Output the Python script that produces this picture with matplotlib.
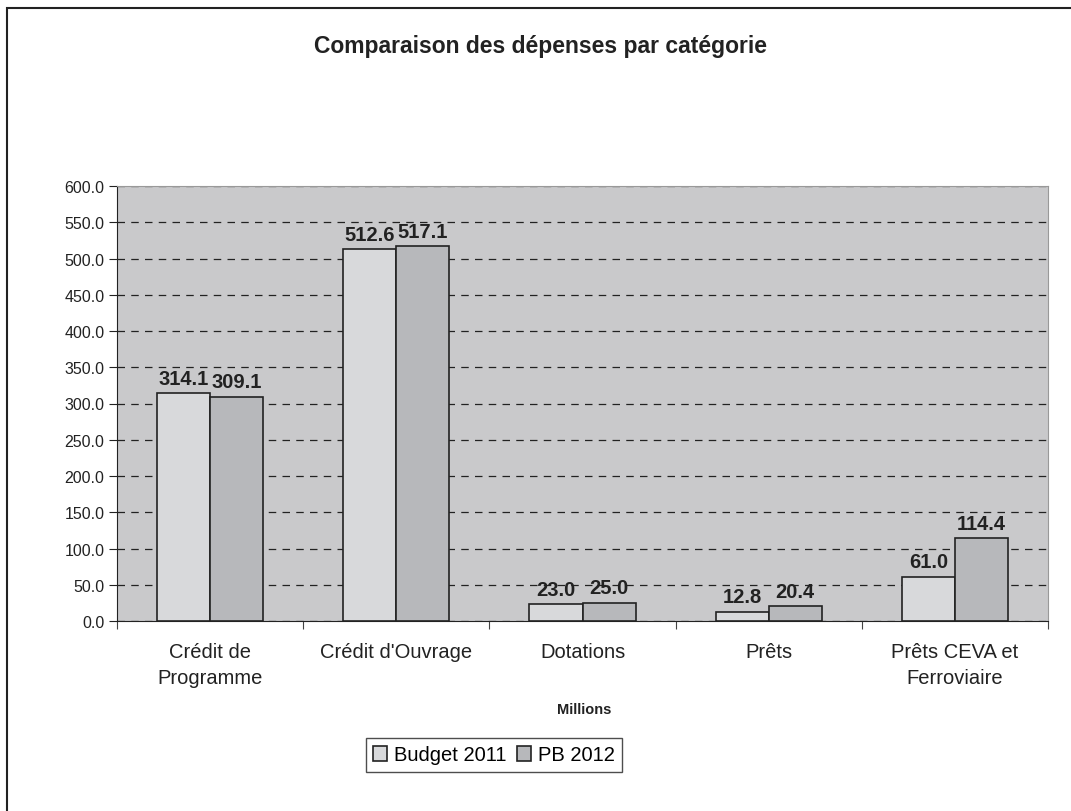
import matplotlib.pyplot as plt
import numpy as np
from matplotlib.patches import Rectangle

plt.rcParams['font.family'] = ['Liberation Sans', 'DejaVu Sans']

# -------------------------
# données
categories = ['Crédit de\nProgramme', "Crédit d'Ouvrage", 'Dotations', 'Prêts', 'Prêts CEVA et\nFerroviaire']
budget_2011 = [314.1, 512.6, 23.0, 12.8, 61.0]
pb_2012 = [309.1, 517.1, 25.0, 20.4, 114.4]
series_names = ['Budget 2011', 'PB 2012']
y_ticks = np.arange(0, 601, 50)

# -------------------------
W, H = 1071, 812
fig = plt.figure(figsize=(W / 100, H / 100), dpi=100)
ax = fig.add_axes([117 / W, 1 - 622 / H, (1048 - 117) / W, (622 - 187) / H])

# cadre du graphique (seulement haut et gauche visibles)
fig.patches.append(Rectangle((7 / W, -0.1), 1.2, (H - 9) / H + 0.1, transform=fig.transFigure,
                             fill=False, edgecolor='#222222', linewidth=1.5))

ax.set_facecolor('#c9c9cb')
x = np.arange(len(categories))
w = 0.285
b1 = ax.bar(x - w / 2, budget_2011, w, color='#d8d9db', edgecolor='#222222', linewidth=1.2,
            label=series_names[0], zorder=3)
b2 = ax.bar(x + w / 2, pb_2012, w, color='#b7b8bb', edgecolor='#222222', linewidth=1.2,
            label=series_names[1], zorder=3)

for bars in (b1, b2):
    for rect in bars:
        h = rect.get_height()
        ax.annotate(f'{h:.1f}', (rect.get_x() + rect.get_width() / 2, h), xytext=(0, 4),
                    textcoords='offset points', ha='center', va='bottom',
                    fontsize=14.5, fontweight='bold', color='#222222', zorder=4)

ax.set_xlim(-0.5, len(categories) - 0.5)
ax.set_ylim(0, 600)
ax.set_yticks(y_ticks)
ax.set_yticklabels([f'{v:.1f}' for v in y_ticks], fontsize=11.5, color='#222222')
ax.yaxis.grid(True, linestyle=(0, (6, 5)), color='#222222', linewidth=0.9, zorder=1)
ax.set_axisbelow(True)

# graduations x entre les catégories
ax.set_xticks(np.arange(-0.5, len(categories), 1.0))
ax.set_xticklabels([])
ax.set_xticks(x, minor=True)
ax.set_xticklabels(categories, minor=True, fontsize=14.5, color='#222222', linespacing=1.45)
ax.tick_params(axis='x', which='minor', length=0, pad=15)
ax.tick_params(axis='x', which='major', length=6, color='#444444')
ax.tick_params(axis='y', length=6, color='#222222', pad=3)

for side in ('top', 'right'):
    ax.spines[side].set_color('#999999')
ax.spines['left'].set_color('#222222')
ax.spines['bottom'].set_color('#222222')

fig.text(540 / W, 1 - 47 / H, 'Comparaison des dépenses par catégorie', ha='center', va='center',
         fontsize=16.5, fontweight='bold', color='#222222')
fig.text(584 / W, 1 - 710 / H, 'Millions', ha='center', va='center',
         fontsize=10.5, fontweight='bold', color='#222222')

leg = fig.legend(loc='center', bbox_to_anchor=(494 / W, 1 - 756 / H), ncol=2, fontsize=14.5,
                 frameon=True, fancybox=False, handlelength=0.7, handleheight=0.7,
                 handletextpad=0.35, columnspacing=0.5, borderpad=0.35)
leg.get_frame().set_edgecolor('#222222')
leg.get_frame().set_linewidth(1.0)

plt.savefig('out.png', dpi=100, facecolor='white')
plt.close()
